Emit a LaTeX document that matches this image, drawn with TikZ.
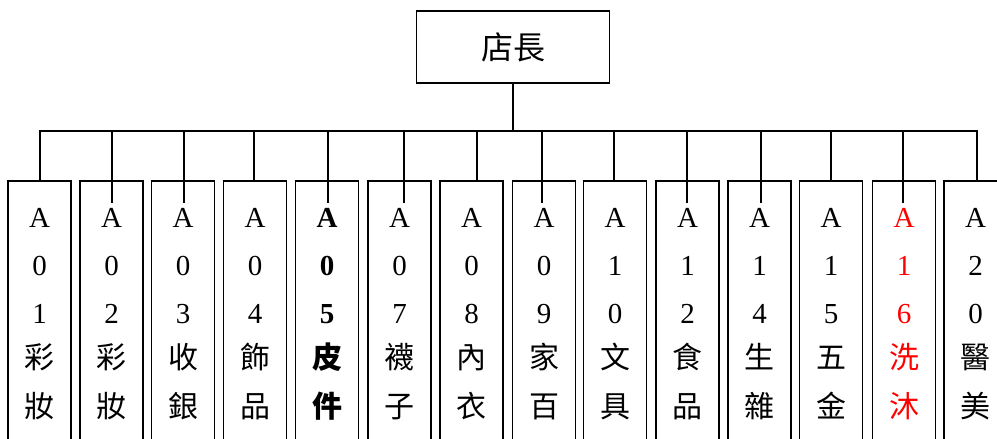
\documentclass[tikz,border=0pt]{standalone}
\usepackage{fontspec}
\setmainfont{Liberation Serif}
\newfontfamily\cjk{Noto Sans CJK TC}
\begin{document}
\begin{tikzpicture}[x=1pt,y=-1pt,
  conn/.style={line width=1.8pt, black},
  unit/.style={draw, line width=1.6pt, fill=white, minimum width=63pt, minimum height=300pt, anchor=north, inner sep=0pt},
  boss/.style={draw, line width=1.6pt, fill=white, minimum width=193pt, minimum height=72pt, inner sep=0pt, font=\cjk\fontsize{32}{32}\selectfont},
  ch/.style={anchor=base, inner sep=0pt, font=\fontsize{29}{29}\selectfont},
  cj/.style={anchor=base, inner sep=0pt, font=\cjk\fontsize{30}{30}\selectfont}]
\useasboundingbox (0,0) rectangle (997,439);
\clip (0,0) rectangle (997,439);
\node[boss] (top) at (513,47) {店長};
\coordinate (hl) at (39,131);
\coordinate (hr) at (978,131);
\draw[conn] (top.south) -- (top.south |- hl);
\draw[conn] (hl) -- (hr);
\foreach \i/\cx/\dx/\de/\n/\d/\ca/\cb/\f/\clr in {
  1/39.5/40/180/0/1/彩/妝/\relax/black,
  2/111.5/112/203/0/2/彩/妝/\relax/black,
  3/183/184/203/0/3/收/銀/\relax/black,
  4/255/254/180/0/4/飾/品/\relax/black,
  5/327/328/203/0/5/皮/件/\bfseries/black,
  6/399.5/404/203/0/7/襪/子/\relax/black,
  7/471.5/477/180/0/8/內/衣/\relax/black,
  8/544/542/203/0/9/家/百/\relax/black,
  9/615/614/180/1/0/文/具/\relax/black,
  10/687.5/687/203/1/2/食/品/\relax/black,
  11/759.5/761/203/1/4/生/雜/\relax/black,
  12/831/831/180/1/5/五/金/\relax/black,
  13/904/903/203/1/6/洗/沐/\relax/red,
  14/975.5/977/180/2/0/醫/美/\relax/black}{
  \node[unit] (b\i) at (\cx,180) {};
  \coordinate (t\i) at (\dx,131);
  \coordinate (e\i) at (\dx,\de);
  \draw[conn] (t\i) -- (e\i);
  \node[ch, text=\clr] (a\i) at (\cx,227) {\f A};
  \node[ch, text=\clr] (n\i) at (\cx,275) {\f \n};
  \node[ch, text=\clr] (m\i) at (\cx,323) {\f \d};
  \node[cj, text=\clr] (c\i) at (\cx,368) {\f \ca};
  \node[cj, text=\clr] (k\i) at (\cx,417) {\f \cb};
}
\end{tikzpicture}
\end{document}
